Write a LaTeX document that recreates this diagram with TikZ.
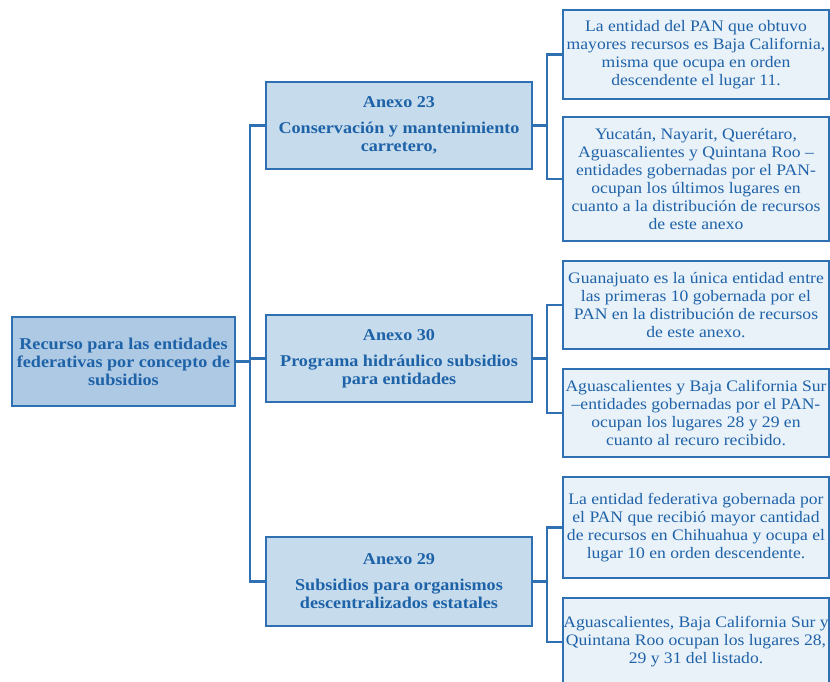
\documentclass[tikz,border=0pt]{standalone}
\usepackage{fontspec}
\setmainfont{Liberation Serif}[FakeStretch=1.1]
\definecolor{bord}{HTML}{2E70B2}
\definecolor{txt}{HTML}{1E62A8}
\definecolor{rootfill}{HTML}{ADC9E3}
\definecolor{midfill}{HTML}{C6DCEC}
\definecolor{leaffill}{HTML}{E9F1F9}
\tikzset{
  box/.style={draw=bord, line width=2.3pt, rectangle, align=center, inner sep=0pt, text=txt, font=\fontsize{16}{18}\selectfont},
  rootbox/.style={box, fill=rootfill, font=\bfseries\fontsize{16.5}{18}\selectfont},
  midbox/.style={box, fill=midfill, minimum width=266pt, minimum height=87pt, font=\bfseries\fontsize{16.5}{18}\selectfont},
  leafbox/.style={box, fill=leaffill, minimum width=266pt},
  conn/.style={draw=bord, line width=2.3pt}
}
\begin{document}
\begin{tikzpicture}[x=1pt,y=-1pt]
\useasboundingbox (0,0) rectangle (830,682);
\clip (0,0) rectangle (830,682);
\node[rootbox, minimum width=223pt, minimum height=89pt] (root) at (123.5,361.5) {Recurso para las entidades\\federativas por concepto de\\subsidios};
\node[midbox] (m1) at (399,125.5) {Anexo 23\\[8pt]Conservación y mantenimiento\\carretero,};
\node[midbox] (m2) at (399,358.5) {Anexo 30\\[8pt]Programa hidráulico subsidios\\para entidades};
\node[midbox, minimum height=89pt] (m3) at (399,581.5) {Anexo 29\\[8pt]Subsidios para organismos\\descentralizados estatales};
\node[leafbox, minimum height=89pt] (r1) at (696,54.5) {La entidad del PAN que obtuvo\\mayores recursos es Baja California,\\misma que ocupa en orden\\descendente el lugar 11.};
\node[leafbox, minimum height=124pt] (r2) at (696,179) {Yucatán, Nayarit, Querétaro,\\Aguascalientes y Quintana Roo –\\entidades gobernadas por el PAN-\\ocupan los últimos lugares en\\cuanto a la distribución de recursos\\de este anexo};
\node[leafbox, minimum height=88pt] (r3) at (696,305) {Guanajuato es la única entidad entre\\las primeras 10 gobernada por el\\PAN en la distribución de recursos\\de este anexo.};
\node[leafbox, minimum height=88pt] (r4) at (696,413) {Aguascalientes y Baja California Sur\\–entidades gobernadas por el PAN-\\ocupan los lugares 28 y 29 en\\cuanto al recuro recibido.};
\node[leafbox, minimum height=101pt] (r5) at (696,527.5) {La entidad federativa gobernada por\\el PAN que recibió mayor cantidad\\de recursos en Chihuahua y ocupa el\\lugar 10 en orden descendente.};
\node[leafbox, minimum height=88pt] (r6) at (696,642) {Aguascalientes, Baja California Sur y\\Quintana Roo ocupan los lugares 28,\\29 y 31 del listado.};
\coordinate (j0) at (250,361.5);
\coordinate (j1) at (547,125.5);
\coordinate (j2) at (547,358.5);
\coordinate (j3) at (547,581.5);
\draw[conn] (root.east) -- (j0);
\draw[conn] (j0) |- (m1.west);
\draw[conn] (j0) |- (m2.west);
\draw[conn] (j0) |- (m3.west);
\draw[conn] (m1.east) -- (j1);
\draw[conn] (j1) |- (r1.west);
\draw[conn] (j1) |- (r2.west);
\draw[conn] (m2.east) -- (j2);
\draw[conn] (j2) |- (r3.west);
\draw[conn] (j2) |- (r4.west);
\draw[conn] (m3.east) -- (j3);
\draw[conn] (j3) |- (r5.west);
\draw[conn] (j3) |- (r6.west);
\end{tikzpicture}
\end{document}
